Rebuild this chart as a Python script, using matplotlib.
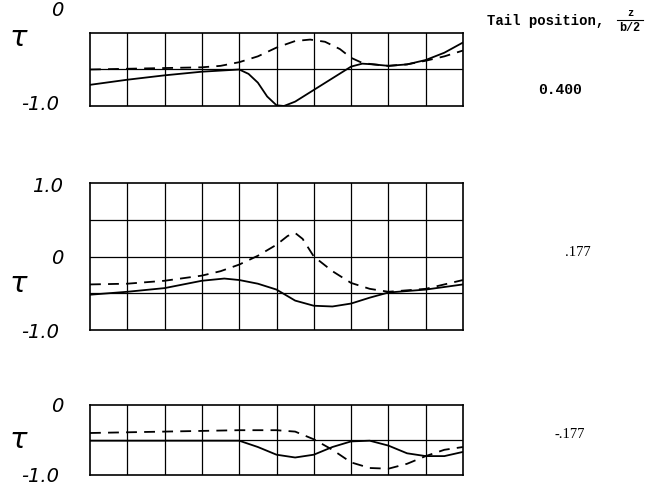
import matplotlib.pyplot as plt

# x stations (grid columns 0..10)
x_top_solid = [0, 1, 2, 3, 4, 4.25, 4.5, 4.75, 5, 5.2, 5.5, 6, 6.5, 7, 7.3, 7.6, 8, 8.5, 9, 9.5, 10]
y_top_solid = [-0.71, -0.64, -0.58, -0.53, -0.5, -0.56, -0.68, -0.87, -0.99, -1.0, -0.94, -0.78, -0.62, -0.46, -0.42, -0.43, -0.45, -0.43, -0.37, -0.27, -0.13]
x_top_dash = [0, 1, 2, 3, 3.5, 4, 4.5, 5, 5.5, 5.9, 6.3, 6.7, 7, 7.3, 7.6, 8, 8.5, 9, 9.5, 10]
y_top_dash = [-0.5, -0.49, -0.48, -0.47, -0.45, -0.4, -0.32, -0.2, -0.11, -0.09, -0.12, -0.22, -0.34, -0.41, -0.43, -0.45, -0.43, -0.38, -0.32, -0.24]

x_mid_solid = [0, 1, 2, 3, 3.6, 4, 4.5, 5, 5.5, 6, 6.5, 7, 7.5, 8, 9, 10]
y_mid_solid = [-0.52, -0.48, -0.43, -0.33, -0.3, -0.32, -0.37, -0.45, -0.6, -0.67, -0.68, -0.64, -0.56, -0.49, -0.45, -0.38]
x_mid_dash = [0, 1, 2, 3, 3.5, 4, 4.5, 5, 5.3, 5.5, 5.7, 6, 6.5, 7, 7.5, 8, 9, 10]
y_mid_dash = [-0.38, -0.37, -0.33, -0.26, -0.2, -0.11, 0.01, 0.16, 0.28, 0.32, 0.24, 0.0, -0.2, -0.36, -0.44, -0.48, -0.44, -0.32]

x_bot_solid = [0, 1, 2, 3, 4, 4.5, 5, 5.5, 6, 6.5, 7, 7.5, 8, 8.5, 9, 9.5, 10]
y_bot_solid = [-0.51, -0.51, -0.51, -0.51, -0.51, -0.6, -0.71, -0.75, -0.71, -0.6, -0.52, -0.51, -0.58, -0.69, -0.73, -0.73, -0.67]
x_bot_dash = [0, 1, 2, 3, 4, 5, 5.5, 6, 6.5, 7, 7.5, 8, 8.5, 9, 9.5, 10]
y_bot_dash = [-0.4, -0.39, -0.38, -0.37, -0.36, -0.36, -0.38, -0.49, -0.64, -0.82, -0.9, -0.91, -0.84, -0.73, -0.64, -0.6]

tail_positions = ["0.400", ".177", "-.177"]

W, H = 650, 488
fig = plt.figure(figsize=(6.5, 4.88), dpi=100)

def box(x0, y0, x1, y1):
    return [x0 / W, 1 - y1 / H, (x1 - x0) / W, (y1 - y0) / H]

panels = [
    (box(90, 33, 463, 106), (-1.0, 0.0), x_top_solid, y_top_solid, x_top_dash, y_top_dash),
    (box(90, 183, 463, 330), (-1.0, 1.0), x_mid_solid, y_mid_solid, x_mid_dash, y_mid_dash),
    (box(90, 405, 463, 475), (-1.0, 0.0), x_bot_solid, y_bot_solid, x_bot_dash, y_bot_dash),
]

for rect, ylim, xs, ys, xd, yd in panels:
    ax = fig.add_axes(rect)
    ax.set_xlim(0, 10)
    ax.set_ylim(*ylim)
    for gx in range(1, 10):
        ax.axvline(gx, color='black', lw=0.9)
    y = ylim[0] + 0.5
    while y < ylim[1] - 1e-6:
        ax.axhline(y, color='black', lw=0.9)
        y += 0.5
    ax.plot(xs, ys, color='black', lw=1.3)
    ax.plot(xd, yd, color='black', lw=1.3, dashes=(6, 4))
    ax.set_xticks([])
    ax.set_yticks([])
    for s in ax.spines.values():
        s.set_linewidth(1.2)

lab = dict(fontsize=14, style='italic', ha='center', va='center')
tau = dict(fontsize=21, style='italic', ha='center', va='center')
def ftxt(px, py, s, **kw):
    fig.text(px / W, 1 - py / H, s, **kw)

# top panel labels
ftxt(57, 11, "0", **lab)
ftxt(18, 38, "τ", **tau)
ftxt(40, 104, "-1.0", **lab)
# middle panel labels
ftxt(48, 187, "1.0", **lab)
ftxt(57, 258, "0", **lab)
ftxt(18, 284, "τ", **tau)
ftxt(40, 332, "-1.0", **lab)
# bottom panel labels
ftxt(57, 407, "0", **lab)
ftxt(18, 440, "τ", **tau)
ftxt(40, 476, "-1.0", **lab)

mono = dict(family='Liberation Mono', weight='bold')
ftxt(604, 21, "Tail position,", ha='right', va='center', fontsize=10, **mono)
ftxt(630, 13, "z", ha='center', va='center', fontsize=7.5, **mono)
fig.add_artist(plt.Line2D([617 / W, 643 / W], [1 - 20 / H, 1 - 20 / H], color='black', lw=0.8))
ftxt(630, 28, "b/2", ha='center', va='center', fontsize=8.5, **mono)

ftxt(560, 90, tail_positions[0], ha='center', va='center', fontsize=10.5, **mono)
ftxt(578, 253, tail_positions[1], ha='center', va='center', family='Liberation Serif', fontsize=10.5)
ftxt(570, 434, tail_positions[2], ha='center', va='center', family='Liberation Serif', fontsize=10.5)

fig.savefig("out.png", dpi=100)
